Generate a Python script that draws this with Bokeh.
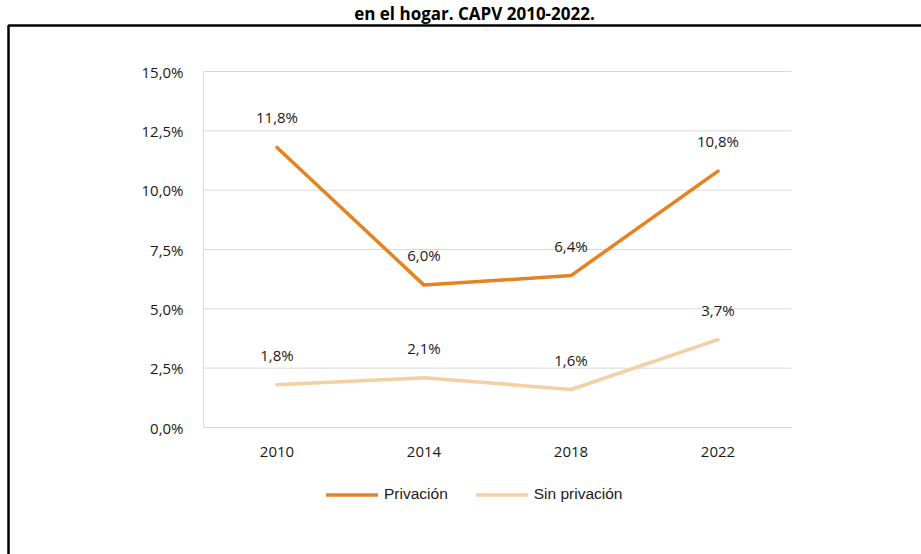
from bokeh.plotting import figure
from bokeh.models import (Range1d, FixedTicker, CustomJSTickFormatter,
                          Legend, LegendItem, ColumnDataSource, Label, BoxAnnotation)
from bokeh.core.properties import value
from bokeh.embed import file_html
from bokeh.resources import INLINE

# ---- data ----
years = ["2010", "2014", "2018", "2022"]
privacion = [11.8, 6.0, 6.4, 10.8]
sin_privacion = [1.8, 2.1, 1.6, 3.7]
y_ticks = [0, 2.5, 5, 7.5, 10, 12.5, 15]
series_names = ["Privación", "Sin privación"]
title_text = "en el hogar. CAPV 2010-2022."

def fmt(v):
    return f"{v:.1f}".replace(".", ",") + "%"

C_PRIV = "#E4831F"
C_SIN = "#F4CFA3"
GRID = "#d9d9d9"
FONT = "Open Sans"

# ---- layout geometry (pixels) ----
W, H = 921, 554
PLOT_L, PLOT_R, PLOT_T, PLOT_B = 203, 791, 71, 427
n = len(years)
px_x = (PLOT_R - PLOT_L) / n
px_y = (PLOT_B - PLOT_T) / (y_ticks[-1] - y_ticks[0])
x0_edge, x1_edge = -0.5, n - 0.5
x_range = Range1d(x0_edge - PLOT_L / px_x, x1_edge + (W - PLOT_R) / px_x)
y_range = Range1d(y_ticks[0] - (H - PLOT_B) / px_y, y_ticks[-1] + PLOT_T / px_y)

p = figure(width=W, height=H, x_range=x_range, y_range=y_range,
           output_backend="svg", toolbar_location=None,
           min_border=0, min_border_left=0, min_border_right=0, min_border_top=0, min_border_bottom=0)
p.outline_line_color = None
p.background_fill_color = "white"
p.border_fill_color = "white"
p.xgrid.visible = False
p.ygrid.visible = False

xs = list(range(n))

# horizontal gridlines
p.segment(x0=[x0_edge] * len(y_ticks), x1=[x1_edge] * len(y_ticks), y0=y_ticks, y1=y_ticks,
          line_color=GRID, line_width=1)

# axes
p.yaxis.ticker = FixedTicker(ticks=y_ticks)
p.yaxis.formatter = CustomJSTickFormatter(code="return tick.toFixed(1).replace('.', ',') + '%';")
p.xaxis.ticker = FixedTicker(ticks=xs)
p.xaxis.major_label_overrides = {i: y for i, y in enumerate(years)}
p.xaxis.fixed_location = y_ticks[0]
p.yaxis.fixed_location = x0_edge
p.xaxis.bounds = (x0_edge, x1_edge)
p.yaxis.bounds = (y_ticks[0], y_ticks[-1])
for ax in (p.xaxis[0], p.yaxis[0]):
    ax.axis_line_color = GRID
    ax.major_tick_line_color = None
    ax.minor_tick_line_color = None
    ax.major_tick_out = 0
    ax.major_tick_in = 0
    ax.major_label_text_font = FONT
    ax.major_label_text_font_size = "15px"
    ax.major_label_text_color = "#1a1a1a"
p.yaxis.major_label_standoff = 20
p.xaxis.major_label_standoff = 19

src_p = ColumnDataSource(dict(x=xs, y=privacion, t=[fmt(v) for v in privacion]))
src_s = ColumnDataSource(dict(x=xs, y=sin_privacion, t=[fmt(v) for v in sin_privacion]))

r1 = p.line("x", "y", source=src_p, line_color=C_PRIV, line_width=3.5, line_cap="round", line_join="round")
r2 = p.line("x", "y", source=src_s, line_color=C_SIN, line_width=3.5, line_cap="round", line_join="round")

for src in (src_p, src_s):
    p.text("x", "y", text="t", source=src, y_offset=-30, text_align="center", text_baseline="middle",
           text_font=value(FONT), text_font_size="15px", text_color="#1a1a1a")

legend = Legend(items=[LegendItem(label=series_names[0], renderers=[r1]),
                       LegendItem(label=series_names[1], renderers=[r2])],
                location=(326, H - 503), orientation="horizontal",
                glyph_width=52, glyph_height=15, label_height=15, label_standoff=6, spacing=28,
                padding=0, margin=0, border_line_color=None, background_fill_alpha=0,
                label_text_font="Liberation Sans", label_text_font_size="15.5px",
                label_text_color="#1a1a1a", label_text_baseline="middle")
p.add_layout(legend, "center")

border = BoxAnnotation(left=8, right=W + 100, top=H - 25, bottom=-100,
                       left_units="screen", right_units="screen", top_units="screen", bottom_units="screen",
                       fill_alpha=0, line_color="black", line_alpha=1.0, line_width=2.5)
p.add_layout(border)

title = Label(x=474, y=H - 1, x_units="screen", y_units="screen", text=title_text,
              text_align="center", text_baseline="top", text_font=FONT,
              text_font_size="17px", text_font_style="bold", text_color="#000000")
p.add_layout(title)

open("out.html", "w").write(file_html(p, INLINE))
